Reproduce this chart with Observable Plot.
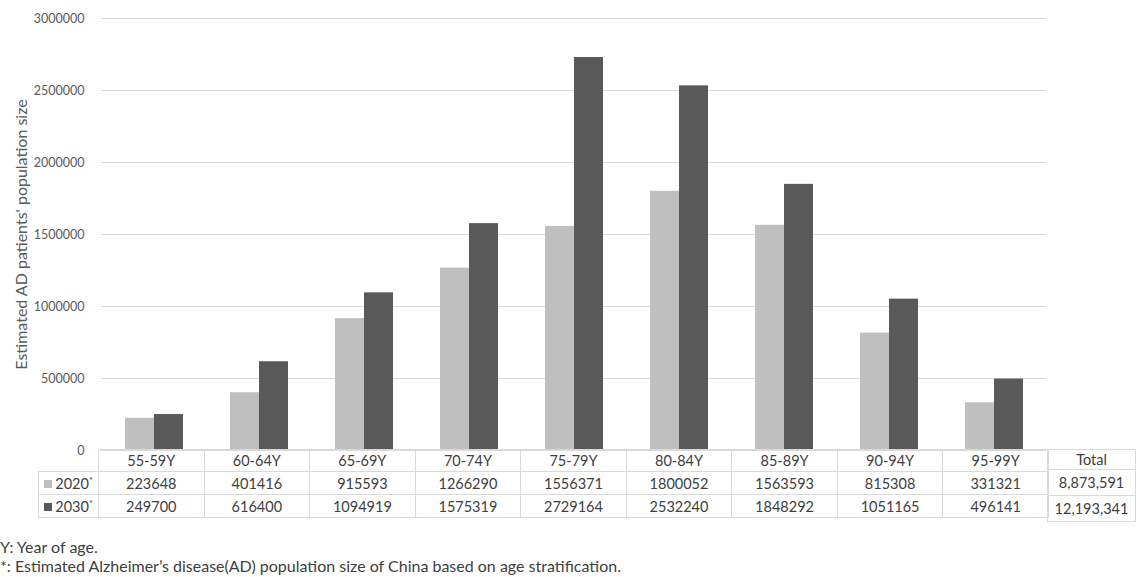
<!DOCTYPE html>
<html>
<head>
<meta charset="utf-8">
<script src="https://cdn.jsdelivr.net/npm/d3@7"></script>
<script src="https://cdn.jsdelivr.net/npm/@observablehq/plot@0.6"></script>
<style>
  html, body { margin: 0; padding: 0; background: #fff; }
  #wrap { position: relative; width: 1136px; height: 577px; font-family: Lato, "Open Sans", sans-serif; color: #404040; overflow: hidden; }
  #chart { position: absolute; left: 0; top: 0; }
  table { border-collapse: collapse; position: absolute; font-size: 14.5px; color: #404040; }
  td { border: 1px solid #d9d9d9; text-align: center; padding: 0; box-sizing: border-box; white-space: nowrap; }
  td.blank { border: none; }
  .key { display: inline-block; width: 8px; height: 8px; margin-right: 3px; vertical-align: 1px; }
  .star { font-size: 9px; vertical-align: 5px; }
  .note { position: absolute; left: 0; font-size: 16px; color: #404040; white-space: nowrap; }
</style>
</head>
<body>
<div id="wrap">
  <div id="chart"></div>
  <table id="tbl"></table>
  <table id="tot"></table>
  <div class="note" id="n1" style="top:537px"></div>
  <div class="note" id="n2" style="top:556px"></div>
</div>
<script>
const categories = ["55-59Y","60-64Y","65-69Y","70-74Y","75-79Y","80-84Y","85-89Y","90-94Y","95-99Y"];
const years = ["2020","2030"];
const v2020 = [223648, 401416, 915593, 1266290, 1556371, 1800052, 1563593, 815308, 331321];
const v2030 = [249700, 616400, 1094919, 1575319, 2729164, 2532240, 1848292, 1051165, 496141];
const totals = ["8,873,591", "12,193,341"];
const yTicks = [0, 500000, 1000000, 1500000, 2000000, 2500000, 3000000];
const colors = ["#bfbfbf", "#595959"];
const yLabel = "Estimated AD patients' population size";
const notes = ["Y: Year of age.", "*: Estimated Alzheimer\u2019s disease(AD) population size of China based on age stratification."];

const series = [v2020, v2030];
const data = categories.flatMap((c, i) => years.map((y, j) => ({age: c, year: y, value: series[j][i]})));

const chart = Plot.plot({
  width: 1136,
  height: 470,
  marginLeft: 98,
  marginRight: 88,
  marginTop: 18,
  marginBottom: 20,
  style: {fontFamily: "Lato, 'Open Sans', sans-serif", fontSize: "12.5px", color: "#595959", background: "transparent"},
  fx: {domain: categories, padding: 0, axis: null},
  x: {domain: years, paddingInner: 0, paddingOuter: 0.76, axis: null},
  y: {domain: [0, 3000000], ticks: yTicks, tickFormat: d3.format("d"), tickSize: 0, tickPadding: 17,
      label: null},
  color: {domain: years, range: colors},
  marks: [
    Plot.gridY(yTicks, {stroke: "#d9d9d9", strokeOpacity: 1}),
    Plot.barY(data, {fx: "age", x: "year", y: "value", fill: "year"}),
    Plot.axisY({ticks: yTicks, tickFormat: d3.format("d"), tickSize: 0, tickPadding: 17,
      label: yLabel, labelAnchor: "center", labelArrow: "none", labelOffset: 86,
      fontSize: 12.5}),
  ]
});
// enlarge the axis label only
chart.querySelectorAll("text").forEach(t => {
  if (t.textContent === yLabel) t.setAttribute("font-size", "16px");
});
document.getElementById("chart").appendChild(chart);

// data table
const tbl = document.getElementById("tbl");
tbl.style.left = "38px";
tbl.style.top = "449px";
const colW = (1048 - 98) / categories.length;
let html = '<tr style="height:22px"><td class="blank" style="width:60px"></td>' +
  categories.map(c => `<td style="width:${colW}px">${c}</td>`).join("") + "</tr>";
years.forEach((y, j) => {
  html += `<tr style="height:23px"><td style="width:60px"><span class="key" style="background:${colors[j]}"></span>${y}<span class="star">*</span></td>` +
    series[j].map(v => `<td>${v}</td>`).join("") + "</tr>";
});
tbl.innerHTML = html;

const tot = document.getElementById("tot");
tot.style.left = "1047px";
tot.style.top = "449px";
tot.innerHTML = `<tr style="height:20px"><td style="width:90px">Total</td></tr>` +
  totals.map(t => `<tr style="height:26px"><td style="width:90px">${t}</td></tr>`).join("");

document.getElementById("n1").textContent = notes[0];
document.getElementById("n2").textContent = notes[1];
</script>
</body>
</html>
